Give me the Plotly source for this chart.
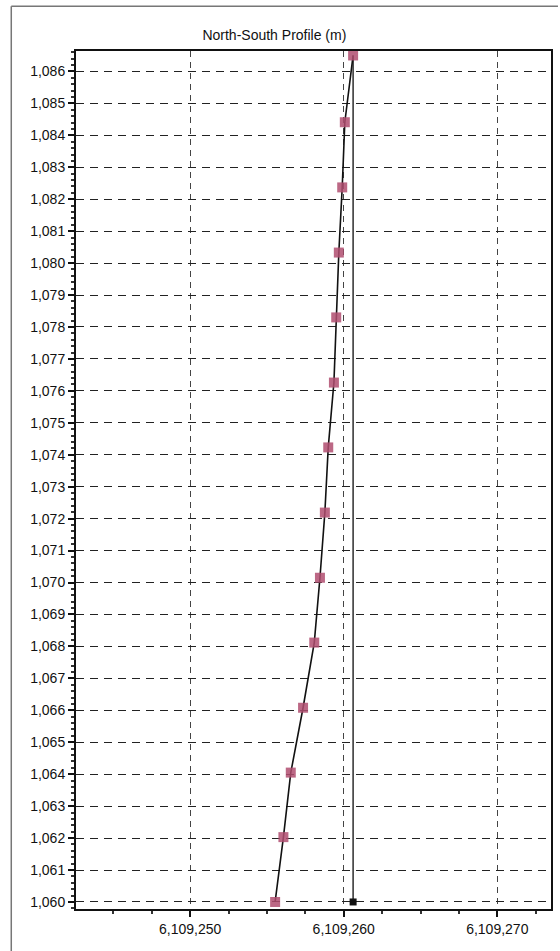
import plotly.graph_objects as go

# Surveyed profile: northing (m) against elevation (m)
elevation = [1060.0, 1062.03, 1064.05, 1066.08, 1068.12, 1070.15, 1072.19,
             1074.23, 1076.26, 1078.3, 1080.33, 1082.37, 1084.41, 1086.5]
northing = [6109255.53, 6109256.07, 6109256.55, 6109257.35, 6109258.08,
            6109258.45, 6109258.77, 6109258.99, 6109259.36, 6109259.51,
            6109259.68, 6109259.90, 6109260.07, 6109260.61]

# Vertical reference (plumb) line from the collar
plumb_northing = [6109260.61, 6109260.61]
plumb_elevation = [1060.0, 1086.5]

x_range = [6109242.56, 6109273.5]
y_range = [1059.78, 1086.64]
x_ticks = [6109250, 6109260, 6109270]
y_ticks = list(range(1060, 1087))

FONT = "Liberation Sans, Arial, sans-serif"

fig = go.Figure()

fig.add_trace(go.Scatter(
    x=plumb_northing, y=plumb_elevation, mode="lines",
    line=dict(color="#3a3a3a", width=1.6),
    showlegend=False, hoverinfo="skip",
))
fig.add_trace(go.Scatter(
    x=plumb_northing[:1], y=plumb_elevation[:1], mode="markers",
    marker=dict(symbol="square", size=7, color="#111"),
    showlegend=False, hoverinfo="skip",
))
fig.add_trace(go.Scatter(
    x=northing, y=elevation, mode="lines+markers",
    line=dict(color="#111", width=1.6),
    marker=dict(symbol="square", size=10, color="rgba(176,78,112,0.85)",
                line=dict(width=0)),
    showlegend=False,
))

fig.update_xaxes(
    range=x_range, tickvals=x_ticks, tickformat=",d",
    showline=True, linecolor="#111", linewidth=2, mirror=True,
    ticks="outside", ticklen=6, tickcolor="#111", tickwidth=1.5,
    minor=dict(dtick=2.5, tick0=6109250, ticks="outside", ticklen=3,
               tickcolor="#333", showgrid=False),
    showgrid=True, gridcolor="#444", gridwidth=1, griddash="6px,5px",
    zeroline=False,
    tickfont=dict(family=FONT, size=14, color="#111"),
)
fig.update_yaxes(
    range=y_range, tickvals=y_ticks, tickformat=",d",
    showline=True, linecolor="#111", linewidth=2, mirror=True,
    ticks="outside", ticklen=6, tickcolor="#111", tickwidth=1.5,
    minor=dict(dtick=0.2, tick0=1060, ticks="outside", ticklen=3,
               tickcolor="#333", showgrid=False),
    showgrid=True, gridcolor="#222", gridwidth=1.4, griddash="8px,6px",
    zeroline=False,
    tickfont=dict(family=FONT, size=14, color="#111"),
)

# Thin window frame around the chart
frame = dict(type="line", xref="paper", yref="paper",
             line=dict(color="#777", width=1.5))
fig.add_shape(**frame, x0=(11 - 76) / 477, x1=(560 - 76) / 477,
              y0=(909 - 6) / 858.3, y1=(909 - 6) / 858.3)
fig.add_shape(**frame, x0=(11 - 76) / 477, x1=(11 - 76) / 477,
              y0=(909 - 6) / 858.3, y1=(909 - 951) / 858.3)

fig.update_layout(
    width=560, height=951,
    margin=dict(l=76, r=7, t=51, b=42),
    paper_bgcolor="white", plot_bgcolor="white",
    title=dict(text="North-South Profile (m)", x=0.49, xanchor="center",
               y=1 - 35 / 951, yanchor="middle",
               font=dict(family=FONT, size=14, color="#111")),
)

fig.write_html("out.html")
